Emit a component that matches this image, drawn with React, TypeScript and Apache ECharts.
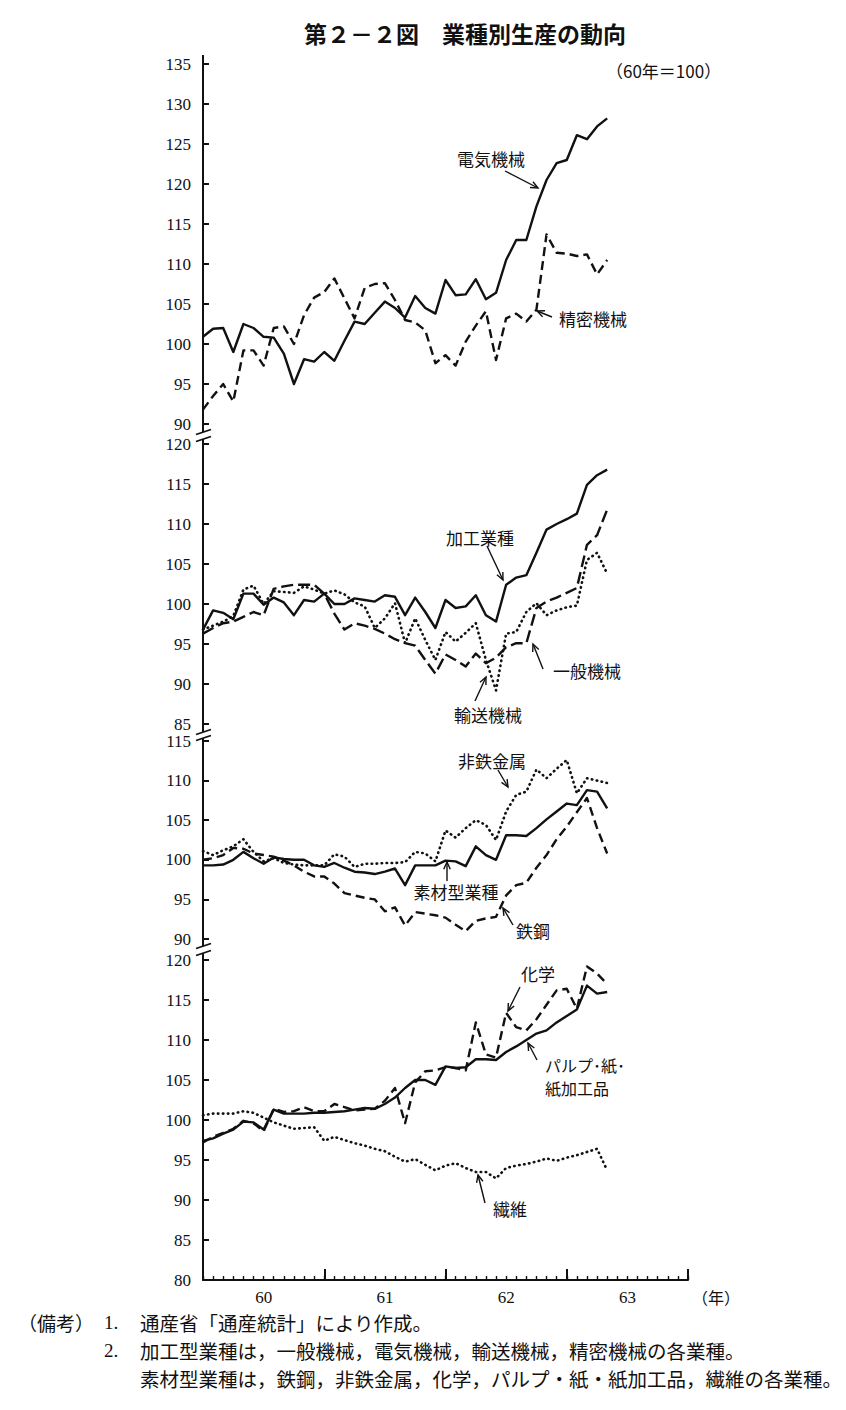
import React, { useEffect, useRef } from "react";
import * as echarts from "echarts";

// ---- Data (monthly index, 昭和60年1月 = 0) ----
const yearLabels = ["60", "61", "62", "63"];

// Panel 1
const elecMach = [100.9, 101.9, 102.0, 99.0, 102.5, 102.0, 100.9, 100.8, 98.8, 95.0, 98.1, 97.8, 99.0, 97.9, 100.4, 102.8, 102.5, 103.9, 105.3, 104.5, 103.3, 106.0, 104.5, 103.8, 108.0, 106.1, 106.2, 108.1, 105.6, 106.4, 110.5, 113.0, 113.0, 117.2, 120.5, 122.6, 123.0, 126.1, 125.6, 127.2, 128.2];
const precMach = [91.8, 93.5, 95.0, 92.8, 99.2, 99.2, 97.3, 102.0, 102.2, 100.0, 103.6, 105.8, 106.5, 108.2, 105.7, 103.2, 107.0, 107.5, 107.6, 105.5, 103.0, 102.7, 101.7, 97.6, 98.6, 97.3, 100.3, 102.3, 104.1, 98.0, 103.2, 103.8, 102.8, 104.3, 113.7, 111.4, 111.3, 111.0, 111.2, 108.7, 110.5];

// Panel 2
const procInd = [96.8, 99.2, 98.9, 98.1, 101.3, 101.3, 99.9, 100.8, 100.2, 98.6, 100.5, 100.3, 101.3, 100.0, 100.0, 100.7, 100.5, 100.3, 101.1, 100.9, 98.6, 100.8, 99.0, 97.0, 100.5, 99.5, 99.7, 101.1, 98.6, 97.8, 102.4, 103.3, 103.6, 106.4, 109.3, 110.0, 110.6, 111.3, 114.9, 116.1, 116.8];
const genMach = [96.3, 97.0, 97.6, 97.8, 98.4, 99.0, 98.6, 101.9, 102.2, 102.4, 102.4, 102.4, 101.3, 98.8, 96.8, 97.6, 97.3, 96.9, 96.3, 95.6, 95.1, 94.8, 93.0, 91.3, 93.7, 93.0, 92.2, 93.8, 92.6, 93.3, 94.6, 95.1, 95.1, 99.5, 100.3, 100.8, 101.4, 102.0, 107.4, 108.6, 111.8];
const transMach = [96.8, 97.3, 97.8, 98.5, 101.8, 102.3, 100.0, 101.6, 101.5, 101.4, 102.2, 101.8, 101.3, 101.7, 101.2, 100.2, 99.7, 97.0, 98.2, 100.1, 95.1, 98.2, 95.5, 93.0, 96.5, 95.3, 96.4, 97.6, 93.0, 89.2, 96.3, 96.5, 99.0, 100.1, 98.6, 99.2, 99.6, 99.8, 105.5, 106.4, 103.8];

// Panel 3
const materials = [99.3, 99.3, 99.4, 100.0, 101.0, 100.2, 99.5, 100.3, 100.1, 100.0, 100.0, 99.3, 99.1, 99.6, 99.0, 98.5, 98.4, 98.2, 98.5, 98.9, 96.8, 99.3, 99.3, 99.3, 99.9, 99.8, 99.2, 101.7, 100.6, 100.0, 103.1, 103.1, 103.0, 104.0, 105.1, 106.1, 107.1, 106.9, 108.8, 108.6, 106.5];
const steel = [100.0, 100.2, 100.6, 101.5, 101.4, 100.8, 100.6, 100.4, 99.9, 99.3, 98.5, 97.9, 97.9, 97.0, 95.8, 95.5, 95.2, 95.0, 93.5, 94.0, 91.7, 93.4, 93.2, 93.0, 92.7, 91.8, 91.0, 92.3, 92.6, 92.8, 95.5, 96.8, 97.1, 99.0, 100.6, 102.6, 104.2, 106.0, 107.8, 104.0, 100.8];
const nonFerrous = [101.1, 100.6, 101.2, 101.7, 102.6, 101.0, 99.8, 100.2, 99.6, 99.4, 99.3, 99.3, 99.3, 100.7, 100.4, 99.1, 99.5, 99.5, 99.6, 99.6, 99.7, 101.0, 100.8, 99.8, 103.7, 102.8, 104.0, 105.0, 104.4, 102.5, 106.1, 108.2, 108.6, 111.4, 110.3, 111.5, 112.6, 108.4, 110.3, 110.0, 109.7];

// Panel 4
const pulp = [97.4, 97.7, 98.3, 98.8, 99.8, 99.7, 98.8, 101.3, 100.8, 100.8, 100.8, 100.9, 100.9, 101.0, 101.1, 101.3, 101.5, 101.4, 102.0, 102.8, 104.0, 105.0, 105.0, 104.4, 106.7, 106.5, 106.6, 107.6, 107.6, 107.5, 108.5, 109.2, 110.0, 110.8, 111.2, 112.2, 113.0, 113.8, 116.8, 115.8, 116.0];
const chem = [97.2, 97.9, 98.4, 98.9, 99.9, 99.6, 98.6, 101.4, 101.0, 101.1, 101.6, 101.1, 101.1, 102.0, 101.6, 101.2, 101.3, 101.4, 102.4, 104.0, 99.6, 104.7, 106.1, 106.2, 106.6, 106.5, 106.2, 112.2, 108.2, 107.8, 113.4, 111.6, 111.2, 112.6, 114.4, 116.2, 116.4, 113.9, 119.2, 118.3, 117.0];
const textile = [100.6, 100.8, 100.8, 100.8, 101.1, 100.9, 100.3, 99.7, 99.3, 98.9, 99.0, 99.1, 97.4, 97.9, 97.5, 97.1, 96.8, 96.4, 96.1, 95.4, 94.8, 95.1, 94.4, 93.7, 94.3, 94.6, 94.0, 93.5, 93.5, 92.7, 94.0, 94.3, 94.5, 94.8, 95.2, 94.9, 95.3, 95.6, 96.0, 96.4, 93.7];

const CJK = '"Noto Sans CJK JP", sans-serif';
const SERIF = '"Liberation Serif", "DejaVu Serif", serif';
const INK = "#111";

const SOLID = "solid";
const DASH: number[] = [9, 5];
const LONGDASH: number[] = [12, 5];
const DOT: number[] = [0.5, 4.5];

function lineSeries(name: string, values: number[], axis: number, yAxis: number, type: any) {
  const dotted = Array.isArray(type) && type[0] < 1;
  return {
    type: "line",
    name,
    xAxisIndex: axis,
    yAxisIndex: yAxis,
    data: values.map((v, i) => [i, v]),
    showSymbol: false,
    symbol: "none",
    silent: true,
    lineStyle: {
      color: INK,
      width: dotted ? 2.6 : 2.4,
      type,
      cap: dotted ? "round" : "butt",
      join: "round",
    },
  };
}

function text(x: number, y: number, s: string, size: number, align = "center", family = CJK, weight: any = "normal") {
  return {
    type: "text",
    x,
    y,
    silent: true,
    style: {
      text: s,
      fill: INK,
      fontSize: size,
      fontFamily: family,
      fontWeight: weight,
      textAlign: align,
      align,
      textVerticalAlign: "middle",
      verticalAlign: "middle",
    },
  };
}

function arrow(x1: number, y1: number, x2: number, y2: number) {
  const a = Math.atan2(y2 - y1, x2 - x1);
  const L = 8;
  const t = 0.42;
  const p1 = [x2 - L * Math.cos(a - t), y2 - L * Math.sin(a - t)];
  const p2 = [x2 - L * Math.cos(a + t), y2 - L * Math.sin(a + t)];
  return [
    { type: "line", silent: true, shape: { x1, y1, x2, y2 }, style: { stroke: INK, lineWidth: 1.4 } },
    { type: "polyline", silent: true, shape: { points: [p1, [x2, y2], p2] }, style: { stroke: INK, lineWidth: 1.4, fill: null } },
  ];
}

function vline(x: number, y1: number, y2: number) {
  return { type: "line", silent: true, shape: { x1: x, y1, x2: x, y2 }, style: { stroke: INK, lineWidth: 2 } };
}

function breakMark(y: number) {
  return { type: "line", silent: true, shape: { x1: 196, y1: y + 2.5, x2: 211, y2: y - 2.5 }, style: { stroke: INK, lineWidth: 1.8 } };
}

const LEFT = 203;
const WIDTH = 485;

function yAxisCfg(grid: number, min: number, max: number) {
  return {
    type: "value",
    gridIndex: grid,
    min,
    max,
    interval: 5,
    axisLine: { show: true, lineStyle: { color: INK, width: 2 } },
    axisTick: { show: true, inside: true, length: 6, lineStyle: { color: INK, width: 2 } },
    axisLabel: { show: true, color: INK, fontFamily: SERIF, fontSize: 17, margin: 12 },
    splitLine: { show: false },
  };
}

export default function App() {
  const ref = useRef<HTMLDivElement>(null);

  useEffect(() => {
    if (!ref.current) return;
    const chart = echarts.init(ref.current, undefined, { renderer: "svg" });

    const hiddenX = (g: number) => ({ type: "value", gridIndex: g, min: 0, max: 48, show: false });

    const option: any = {
      animation: false,
      backgroundColor: "#ffffff",
      grid: [
        { left: LEFT, top: 64, width: WIDTH, height: 360 },
        { left: LEFT, top: 444, width: WIDTH, height: 280 },
        { left: LEFT, top: 741, width: WIDTH, height: 198 },
        { left: LEFT, top: 960, width: WIDTH, height: 320 },
      ],
      xAxis: [
        hiddenX(0),
        hiddenX(1),
        hiddenX(2),
        {
          type: "value",
          gridIndex: 3,
          position: "bottom",
          min: 0,
          max: 48,
          interval: 1,
          axisLine: { show: true, lineStyle: { color: INK, width: 2 } },
          axisTick: { show: true, inside: true, length: 4, lineStyle: { color: INK, width: 1.4 } },
          axisLabel: { show: false },
          splitLine: { show: false },
        },
        {
          type: "value",
          gridIndex: 3,
          position: "bottom",
          min: 0,
          max: 48,
          interval: 12,
          axisLine: { show: false },
          axisTick: { show: true, inside: true, length: 11, lineStyle: { color: INK, width: 2 } },
          axisLabel: { show: false },
          splitLine: { show: false },
        },
        {
          type: "value",
          gridIndex: 3,
          position: "bottom",
          min: 0,
          max: 48,
          interval: 6,
          axisLine: { show: false },
          axisTick: { show: false },
          axisLabel: {
            show: true,
            color: INK,
            fontFamily: SERIF,
            fontSize: 17,
            margin: 9,
            formatter: (v: number) => (v % 12 === 6 ? yearLabels[(v - 6) / 12] : ""),
          },
          splitLine: { show: false },
        },
      ],
      yAxis: [yAxisCfg(0, 90, 135), yAxisCfg(1, 85, 120), yAxisCfg(2, 90, 115), yAxisCfg(3, 80, 120)],
      series: [
        lineSeries("電気機械", elecMach, 0, 0, SOLID),
        lineSeries("精密機械", precMach, 0, 0, DASH),
        lineSeries("加工業種", procInd, 1, 1, SOLID),
        lineSeries("一般機械", genMach, 1, 1, LONGDASH),
        lineSeries("輸送機械", transMach, 1, 1, DOT),
        lineSeries("素材型業種", materials, 2, 2, SOLID),
        lineSeries("鉄鋼", steel, 2, 2, DASH),
        lineSeries("非鉄金属", nonFerrous, 2, 2, DOT),
        lineSeries("パルプ・紙・紙加工品", pulp, 3, 3, SOLID),
        lineSeries("化学", chem, 3, 3, DASH),
        lineSeries("繊維", textile, 3, 3, DOT),
      ],
      graphic: [
        // title & unit
        text(465, 33, "第２－２図　業種別生産の動向", 23, "center", CJK, "bold"),
        text(606, 70, "（60年＝100）", 17, "left"),
        // axis extensions and breaks
        vline(LEFT, 55, 64),
        vline(LEFT, 424, 432),
        vline(LEFT, 439, 444),
        vline(LEFT, 724, 732),
        vline(LEFT, 738, 741),
        vline(LEFT, 939, 946),
        vline(LEFT, 953, 960),
        breakMark(432),
        breakMark(439),
        breakMark(732),
        breakMark(738),
        breakMark(946),
        breakMark(953),
        // panel 1 labels
        text(491, 158, "電気機械", 17),
        ...arrow(505, 171, 538, 188),
        text(593, 318, "精密機械", 17),
        ...arrow(552, 317, 537, 311),
        // panel 2 labels
        text(480, 537, "加工業種", 17),
        ...arrow(487, 546, 503, 580),
        text(587, 670, "一般機械", 17),
        ...arrow(543, 669, 533, 644),
        text(488, 714, "輸送機械", 17),
        ...arrow(475, 701, 486, 677),
        // panel 3 labels
        text(492, 760, "非鉄金属", 17),
        ...arrow(498, 770, 508, 787),
        text(456, 891, "素材型業種", 17),
        ...arrow(447, 881, 447, 862),
        text(533, 930, "鉄鋼", 17),
        ...arrow(513, 925, 503, 908),
        // panel 4 labels
        text(538, 973, "化学", 17),
        ...arrow(520, 987, 508, 1011),
        text(545, 1065, "パルプ･紙･", 16, "left"),
        text(545, 1088, "紙加工品", 16, "left"),
        ...arrow(537, 1060, 528, 1043),
        text(510, 1208, "繊維", 17),
        ...arrow(485, 1203, 478, 1175),
        // x unit
        text(692, 1297, "（年）", 16, "left"),
        // notes
        text(18, 1322, "（備考）", 19, "left"),
        text(104, 1322, "1.", 19, "left", SERIF),
        text(140, 1322, "通産省「通産統計」により作成。", 19.5, "left"),
        text(104, 1350, "2.", 19, "left", SERIF),
        text(140, 1350, "加工型業種は，一般機械，電気機械，輸送機械，精密機械の各業種。", 19.5, "left"),
        text(140, 1378, "素材型業種は，鉄鋼，非鉄金属，化学，パルプ・紙・紙加工品，繊維の各業種。", 19.5, "left"),
      ],
    };

    chart.setOption(option);
    return () => chart.dispose();
  }, []);

  return (
    <div
      ref={ref}
      style={{ position: "absolute", left: 0, top: 0, width: 846, height: 1410, background: "#fff" }}
    />
  );
}
